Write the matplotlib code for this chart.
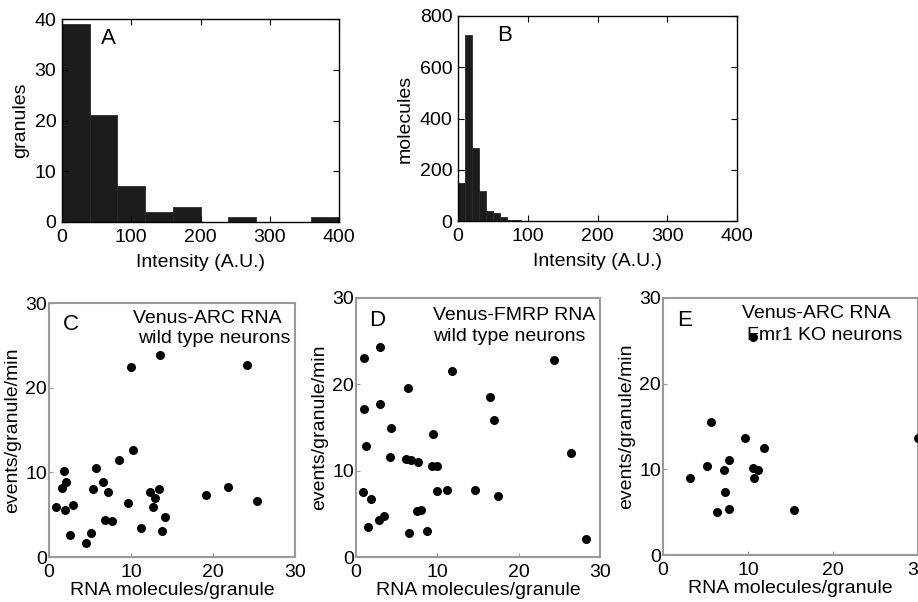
import matplotlib
matplotlib.use("Agg")
import matplotlib.pyplot as plt
import numpy as np

plt.rcParams['font.family'] = ['Liberation Sans', 'DejaVu Sans']

# Panel A histogram
a_edges = [0, 40, 80, 120, 160, 200, 240, 280, 320, 360, 400]
a_counts = [39, 21, 7, 2, 3, 0, 1, 0, 0, 1]

# Panel B histogram
b_edges = [0, 10, 20, 30, 40, 50, 60, 70, 80, 90, 100]
b_counts = [147, 727, 283, 116, 40, 31, 14, 3, 5, 0]

# Panel C scatter
c_x = [0.8, 1.8, 1.6, 2.1, 1.9, 2.9, 2.5, 4.5, 5.1, 5.4, 5.7, 6.6, 6.8, 7.2, 7.7, 8.5, 9.6,
       10.0, 10.3, 11.2, 12.3, 12.9, 12.7, 13.4, 13.5, 13.8, 14.1, 19.2, 21.8, 24.1, 25.4]
c_y = [5.9, 10.1, 8.2, 8.8, 5.5, 6.2, 2.6, 1.6, 2.8, 8.0, 10.5, 8.9, 4.4, 7.7, 4.2, 11.4, 6.4,
       22.4, 12.6, 3.4, 7.7, 7.0, 5.9, 8.0, 23.9, 3.1, 4.7, 7.3, 8.3, 22.7, 6.6]

# Panel D scatter
d_x = [1.0, 2.9, 1.0, 2.9, 1.2, 0.8, 1.9, 1.5, 2.8, 3.4, 4.3, 4.2, 6.4, 6.2, 6.8, 7.6, 6.5,
       7.5, 8.0, 8.7, 9.5, 9.4, 9.9, 9.9, 11.2, 11.8, 14.6, 16.5, 17.0, 17.4, 24.3, 26.4, 28.3]
d_y = [23.0, 24.3, 17.2, 17.7, 12.9, 7.5, 6.7, 3.5, 4.3, 4.7, 15.0, 11.6, 19.6, 11.4, 11.2,
       11.0, 2.8, 5.3, 5.4, 3.0, 14.2, 10.5, 10.5, 7.6, 7.8, 21.6, 7.8, 18.5, 15.9, 7.1, 22.8,
       12.1, 2.1]

# Panel E scatter
e_x = [10.6, 5.6, 9.7, 11.9, 5.2, 7.8, 7.2, 10.6, 11.2, 10.7, 3.2, 7.3, 6.4, 7.8, 15.4, 30.0]
e_y = [25.5, 15.5, 13.6, 12.5, 10.4, 11.1, 9.9, 10.2, 9.9, 9.0, 9.0, 7.3, 5.0, 5.4, 5.3, 13.6]

W, H = 918, 602
fig = plt.figure(figsize=(W / 100, H / 100), dpi=100)


def ax_at(l, r, t, b):
    return fig.add_axes([l / W, 1 - b / H, (r - l) / W, (b - t) / H])


def fig_text(x, y, s, **kw):
    fig.text(x / W, 1 - y / H, s, **kw)


FS = 14

# ---- Histograms ----
def hist_panel(ax, edges, counts, ymax, yticks, letter, ylabel):
    ax.bar(edges[:-1], counts, width=np.diff(edges), align='edge', color='#1c1c1c',
           edgecolor='#2a2a2a', linewidth=0.6)
    ax.set_xlim(0, 400)
    ax.set_ylim(0, ymax)
    ax.set_xticks([0, 100, 200, 300, 400])
    ax.set_yticks(yticks)
    ax.tick_params(direction='in', top=True, right=True, labelsize=FS, length=4, width=0.8)
    ax.tick_params(axis='x', pad=5)
    ax.tick_params(axis='y', pad=4)
    for s in ax.spines.values():
        s.set_linewidth(1.0)
        s.set_color('black')
    ax.set_xlabel('Intensity (A.U.)', fontsize=FS, labelpad=6)
    ax.set_ylabel(ylabel, fontsize=FS, labelpad=4)
    ax.text(0.14, 0.955, letter, transform=ax.transAxes, fontsize=16, va='top', ha='left')


axA = ax_at(62, 339, 19, 222)
hist_panel(axA, a_edges, a_counts, 40, [0, 10, 20, 30, 40], 'A', 'granules')
axB = ax_at(458, 737, 16, 221)
hist_panel(axB, b_edges, b_counts, 800, [0, 200, 400, 600, 800], 'B', 'molecules')


# ---- Scatter panels ----
def scatter_panel(ax, x, y, letter):
    ax.scatter(x, y, s=30, color='black', zorder=3, clip_on=False)
    ax.set_xlim(0, 30)
    ax.set_ylim(0, 30)
    ax.set_xticks([0, 10, 20, 30])
    ax.set_yticks([0, 10, 20, 30])
    ax.tick_params(direction='in', labelsize=FS, length=3, width=0.8, color='#999999')
    ax.tick_params(axis='x', pad=5)
    ax.tick_params(axis='y', pad=1.5)
    for s in ax.spines.values():
        s.set_linewidth(1.5)
        s.set_color('#9a9a9a')
    ax.set_xlabel('RNA molecules/granule', fontsize=FS, labelpad=1)
    ax.set_ylabel('events/granule/min', fontsize=FS, labelpad=3)
    ax.text(0.055, 0.955, letter, transform=ax.transAxes, fontsize=16, va='top', ha='left')


axC = ax_at(49, 295, 303, 557)
scatter_panel(axC, c_x, c_y, 'C')
fig_text(133, 323, 'Venus-ARC RNA', fontsize=FS, va='baseline', ha='left')
fig_text(138, 343, 'wild type neurons', fontsize=FS, va='baseline', ha='left')

axD = ax_at(356, 600, 298, 557)
scatter_panel(axD, d_x, d_y, 'D')
fig_text(433, 320, 'Venus-FMRP RNA', fontsize=FS, va='baseline', ha='left')
fig_text(433, 341, 'wild type neurons', fontsize=FS, va='baseline', ha='left')

axE = ax_at(663, 918, 298, 555)
scatter_panel(axE, e_x, e_y, 'E')
fig_text(742, 318, 'Venus-ARC RNA', fontsize=FS, va='baseline', ha='left')
fig_text(747, 340, 'Fmr1 KO neurons', fontsize=FS, va='baseline', ha='left')

fig.savefig('out.png', dpi=100)
